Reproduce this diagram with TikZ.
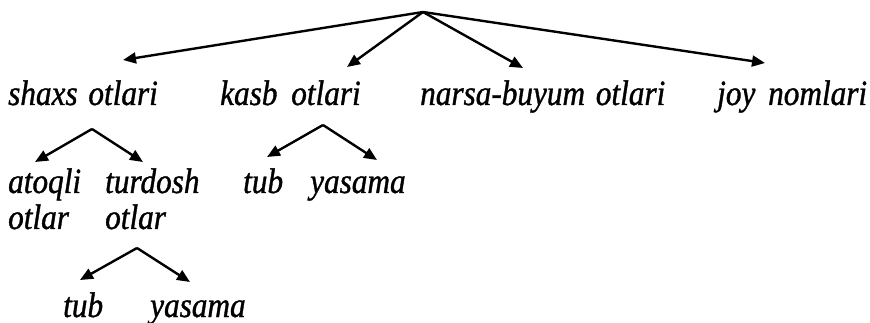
\documentclass[tikz,border=0pt]{standalone}
\usepackage{fontspec}
\setmainfont{Liberation Serif}[FakeStretch=0.88,FakeBold=1]
\usetikzlibrary{arrows.meta}
\begin{document}
\begin{tikzpicture}[x=1pt,y=-1pt,
  lbl/.style={anchor=base west,inner sep=0pt,font=\fontsize{35.5}{40}\selectfont\itshape},
  arr/.style={line width=2.4pt,-{Triangle[length=13pt,width=11pt]}}]
\useasboundingbox (0,0) rectangle (870,323);
% labels
\node[lbl] (shaxs) at (8,105) {shaxs\hspace{3pt} otlari};
\node[lbl] (kasb) at (220,105) {kasb\hspace{6pt} otlari};
\node[lbl] (narsa) at (420,105) {narsa-buyum\hspace{3pt} otlari};
\node[lbl] (joy) at (717,105) {joy\hspace{5pt} nomlari};
\node[lbl] (atoqli) at (8,193) {atoqli};
\node[lbl] (atoqliB) at (8,229) {otlar};
\node[lbl] (turdosh) at (105,193) {turdosh};
\node[lbl] (turdoshB) at (105,229) {otlar};
\node[lbl] (tubA) at (243,193) {tub};
\node[lbl] (yasamaA) at (310,193) {yasama};
\node[lbl] (tubB) at (63,317) {tub};
\node[lbl] (yasamaB) at (150,317) {yasama};
% branch points
\coordinate (root) at (423,12);
\coordinate (s1) at (92,129);
\coordinate (s2) at (323,125);
\coordinate (s3) at (137,248);
% arrow ends
\coordinate (t1) at (123,60);
\coordinate (t2) at (347,67);
\coordinate (t3) at (523,68);
\coordinate (t4) at (765,63);
\coordinate (u1) at (35,162);
\coordinate (u2) at (143,162);
\coordinate (v1) at (267,157);
\coordinate (v2) at (377,160);
\coordinate (w1) at (80,280);
\coordinate (w2) at (190,282);
\draw[arr] (root) -- (t1);
\draw[arr] (root) -- (t2);
\draw[arr] (root) -- (t3);
\draw[arr] (root) -- (t4);
\draw[arr] (s1) -- (u1);
\draw[arr] (s1) -- (u2);
\draw[arr] (s2) -- (v1);
\draw[arr] (s2) -- (v2);
\draw[arr] (s3) -- (w1);
\draw[arr] (s3) -- (w2);
\end{tikzpicture}
\end{document}
